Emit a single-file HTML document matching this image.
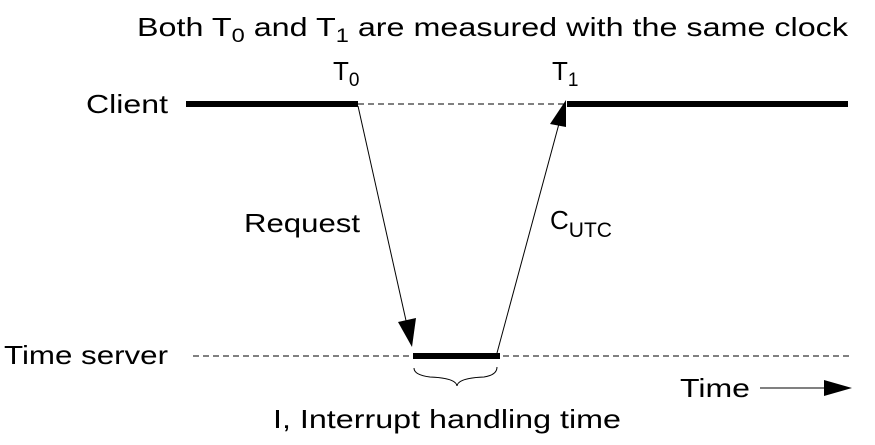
<!DOCTYPE html>
<html><head><style>body{margin:0;background:#fff}</style></head><body>
<svg width="875" height="440" xmlns="http://www.w3.org/2000/svg" font-family="Liberation Sans, sans-serif" font-size="26" fill="#000">
<text x="137" y="36" textLength="711" lengthAdjust="spacingAndGlyphs">Both T<tspan font-size="19" dy="6">0</tspan><tspan dy="-6"> and T</tspan><tspan font-size="19" dy="6">1</tspan><tspan dy="-6">  are measured with the same clock</tspan></text>
<text x="333" y="80">T<tspan font-size="19" dy="6">0</tspan></text>
<text x="552" y="80">T<tspan font-size="19" dy="6">1</tspan></text>
<text x="86" y="113" textLength="82" lengthAdjust="spacingAndGlyphs">Client</text>
<line x1="186" y1="104" x2="358" y2="104" stroke="#000" stroke-width="6"/>
<line x1="358" y1="104" x2="567" y2="104" stroke="#000" stroke-width="1" stroke-dasharray="6,4"/>
<line x1="567" y1="104" x2="848" y2="104" stroke="#000" stroke-width="6"/>
<text x="244" y="232" textLength="116" lengthAdjust="spacingAndGlyphs">Request</text>
<text x="550" y="229">C<tspan font-size="21" dy="8">UTC</tspan></text>
<text x="4" y="364" textLength="164" lengthAdjust="spacingAndGlyphs">Time server</text>
<line x1="193" y1="356" x2="852" y2="356" stroke="#000" stroke-width="1" stroke-dasharray="6,4"/>
<line x1="413" y1="356" x2="500" y2="356" stroke="#000" stroke-width="6"/>
<line x1="358" y1="106" x2="407" y2="325" stroke="#000" stroke-width="1"/>
<polygon points="412,347 398,322 416,318" />
<line x1="497" y1="353" x2="560" y2="120" stroke="#000" stroke-width="1"/>
<polygon points="566,100 550,124 566,127" />
<path d="M414,368 Q414,375 430,377 Q456,378 457,386 Q458,378 484,377 Q497,375 497,367" fill="none" stroke="#000" stroke-width="1"/>
<text x="680" y="397" textLength="70" lengthAdjust="spacingAndGlyphs">Time</text>
<line x1="760" y1="388" x2="830" y2="388" stroke="#000" stroke-width="1"/>
<polygon points="852,388 824,380 824,396"/>
<text x="273" y="428" textLength="348" lengthAdjust="spacingAndGlyphs">I, Interrupt handling time</text>
</svg>
</body></html>
